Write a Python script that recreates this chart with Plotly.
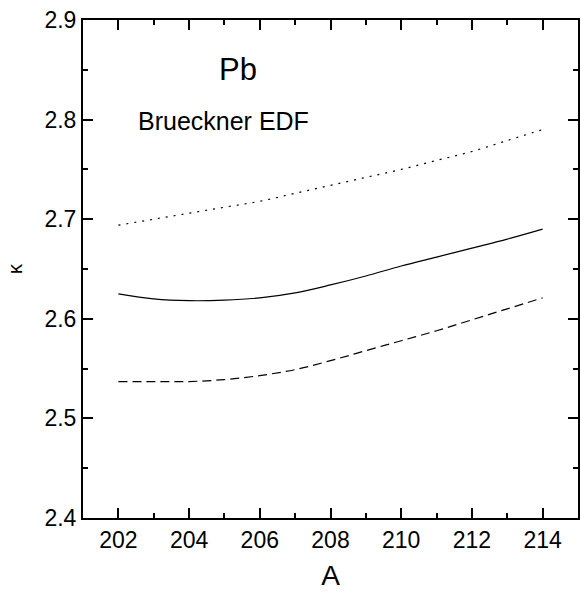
import plotly.graph_objects as go

# Mass number A and kappa values for Pb isotopes (Brueckner EDF)
mass_number = [202, 203, 204, 205, 206, 207, 208, 209, 210, 211, 212, 213, 214]
kappa_central = [2.625, 2.620, 2.6182, 2.6187, 2.621, 2.626, 2.634, 2.643, 2.653, 2.662, 2.671, 2.680, 2.690]
kappa_upper = [2.694, 2.700, 2.706, 2.712, 2.718, 2.726, 2.734, 2.742, 2.750, 2.759, 2.768, 2.779, 2.790]
kappa_lower = [2.537, 2.537, 2.537, 2.539, 2.543, 2.549, 2.558, 2.568, 2.578, 2.588, 2.599, 2.610, 2.621]

x_ticks = [202, 204, 206, 208, 210, 212, 214]
y_ticks = [2.4, 2.5, 2.6, 2.7, 2.8, 2.9]

FONT = "Liberation Sans, Arial, sans-serif"

fig = go.Figure()
for ys, dash in [(kappa_upper, "2px,6px"), (kappa_central, "solid"), (kappa_lower, "9px,5px")]:
    fig.add_trace(go.Scatter(
        x=mass_number, y=ys, mode="lines",
        line=dict(color="black", width=1.2, dash=dash, shape="spline"),
        showlegend=False, hoverinfo="skip",
    ))

axis_common = dict(
    showline=True, linecolor="black", linewidth=2, mirror="ticks",
    ticks="inside", ticklen=10, tickwidth=2, tickcolor="black",
    showgrid=False, zeroline=False,
    tickfont=dict(family=FONT, size=23, color="black"),
)

fig.update_xaxes(
    range=[201, 215], tickvals=x_ticks, ticktext=[str(v) for v in x_ticks],
    minor=dict(ticks="inside", ticklen=5, tickwidth=2, tickcolor="black", dtick=1, tick0=201),
    title=dict(text="A", font=dict(family=FONT, size=28, color="black"), standoff=14),
    **axis_common,
)
fig.update_yaxes(
    range=[2.4, 2.9], tickvals=y_ticks, ticktext=[f"{v:.1f}" for v in y_ticks],
    minor=dict(ticks="inside", ticklen=5, tickwidth=2, tickcolor="black", dtick=0.05, tick0=2.4),
    title=dict(text="κ", font=dict(family=FONT, size=20, color="black"), standoff=16),
    **axis_common,
)

fig.add_annotation(x=205.39, y=2.85, text="Pb", showarrow=False,
                   font=dict(family=FONT, size=31, color="black"))
fig.add_annotation(x=204.97, y=2.7986, text="Brueckner EDF", showarrow=False,
                   font=dict(family=FONT, size=25, color="black"))

fig.update_layout(
    width=581, height=593,
    margin=dict(l=83, r=1, t=20, b=75),
    plot_bgcolor="white", paper_bgcolor="white",
)

fig.write_html("out.html")
